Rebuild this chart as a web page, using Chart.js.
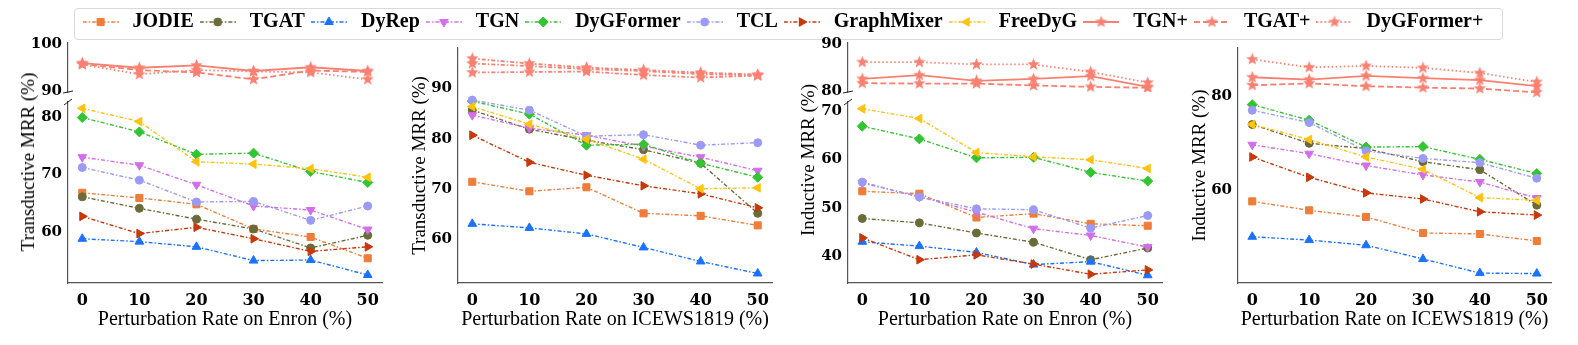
<!DOCTYPE html>
<html>
<head>
<meta charset="utf-8">
<script src="https://cdn.jsdelivr.net/npm/chart.js@4.4.1/dist/chart.umd.min.js"></script>
<style>
  body { margin: 0; background: #fff; width: 1578px; height: 345px; overflow: hidden; position: relative; }
  canvas { position: absolute; }
  #legbox { position: absolute; left: 74px; top: 8px; width: 1427px; height: 30px; border: 1px solid #d9d9d9; border-radius: 4px; }
  .ytitle { position: absolute; font: 19px "Liberation Serif", serif; color: #000; white-space: nowrap;
            transform: translate(-50%, -50%) rotate(-90deg); }
</style>
</head>
<body>
<div id="legbox"></div>
<canvas id="cLeg" width="1578" height="120" style="left:-8px;top:10px"></canvas>
<canvas id="c1t" width="389" height="69" style="left:0;top:33px"></canvas>
<canvas id="c1b" width="389" height="253" style="left:0;top:92px"></canvas>
<canvas id="c2" width="384" height="307" style="left:395px;top:38px"></canvas>
<canvas id="c3t" width="389" height="69" style="left:780px;top:33px"></canvas>
<canvas id="c3b" width="389" height="253" style="left:780px;top:92px"></canvas>
<canvas id="c4" width="383" height="307" style="left:1175px;top:38px"></canvas>
<div class="ytitle" style="left:27.5px;top:162px">Transductive MRR (%)</div>
<div class="ytitle" style="left:808px;top:160px">Inductive MRR (%)</div>
<script>
const rates = [0, 10, 20, 30, 40, 50];
const methods = ["JODIE", "TGAT", "DyRep", "TGN", "DyGFormer", "TCL", "GraphMixer", "FreeDyG", "TGN+", "TGAT+", "DyGFormer+"];

// rows follow the order of methods
const transEnron = [
  [66.8, 65.9, 64.8, 60.5, 59.1, 55.4],
  [66.1, 64.1, 62.2, 60.5, 57.2, 59.4],
  [58.8, 58.3, 57.4, 55.0, 55.1, 52.5],
  [73.0, 71.6, 68.2, 64.5, 63.8, 60.4],
  [79.9, 77.4, 73.5, 73.7, 70.5, 68.6],
  [71.2, 69.0, 65.2, 65.3, 62.0, 64.5],
  [62.7, 59.7, 60.8, 58.8, 56.6, 57.4],
  [81.5, 79.2, 72.2, 71.8, 71.0, 69.5],
  [96.0, 95.0, 95.5, 94.3, 95.1, 94.3],
  [95.8, 94.5, 94.0, 92.5, 94.4, 94.1],
  [95.7, 93.6, 94.5, 94.2, 94.0, 92.5],
];
const transIcews = [
  [71.4, 69.5, 70.3, 65.1, 64.6, 62.7],
  [85.7, 81.9, 79.7, 77.8, 75.1, 65.1],
  [63.0, 62.2, 61.0, 58.3, 55.5, 53.1],
  [84.7, 82.1, 80.7, 78.5, 76.3, 73.6],
  [87.5, 84.9, 78.7, 78.9, 75.1, 72.3],
  [87.7, 85.7, 80.5, 80.8, 78.7, 79.2],
  [80.7, 75.3, 72.7, 70.6, 69.0, 66.2],
  [86.4, 82.9, 79.9, 75.9, 70.0, 70.2],
  [95.0, 94.5, 93.9, 93.5, 92.9, 92.6],
  [93.2, 93.3, 93.4, 92.7, 92.2, 92.6],
  [96.0, 95.0, 94.2, 93.7, 93.2, 92.8],
];
const indEnron = [
  [53.4, 52.9, 48.0, 48.8, 46.7, 46.3],
  [47.8, 46.9, 44.8, 42.9, 39.3, 41.7],
  [43.0, 42.1, 40.8, 38.3, 38.9, 36.1],
  [55.1, 52.3, 49.1, 45.7, 44.3, 41.9],
  [66.8, 64.2, 60.3, 60.4, 57.3, 55.5],
  [55.3, 52.2, 49.8, 49.6, 45.8, 48.4],
  [43.8, 39.3, 40.3, 38.4, 36.3, 37.2],
  [70.4, 68.4, 61.4, 60.5, 59.9, 58.1],
  [82.6, 83.4, 82.2, 82.6, 83.2, 80.9],
  [81.7, 81.6, 81.6, 81.2, 80.9, 80.7],
  [86.2, 86.2, 85.7, 85.7, 84.1, 81.8],
];
const indIcews = [
  [57.7, 55.8, 54.4, 51.0, 50.8, 49.3],
  [74.0, 70.0, 68.9, 66.1, 64.4, 56.9],
  [50.2, 49.5, 48.4, 45.5, 42.5, 42.4],
  [69.7, 67.8, 65.3, 63.3, 61.8, 58.4],
  [78.2, 74.9, 69.2, 69.3, 66.6, 63.6],
  [77.0, 74.4, 68.4, 66.8, 65.9, 62.6],
  [67.1, 62.8, 59.5, 58.2, 55.5, 54.8],
  [74.0, 70.8, 67.1, 64.5, 58.5, 57.9],
  [84.0, 83.5, 84.3, 83.8, 83.4, 82.1],
  [82.3, 82.7, 82.1, 81.8, 81.6, 80.8],
  [87.8, 86.1, 86.4, 86.0, 84.9, 83.0],
];

// styles
const colors = ["#ee7d3a", "#6b6b3a", "#1a72ff", "#d36ee8", "#33c433", "#9b9bf5", "#c8380a", "#ffc20e", "#fa8072", "#fa8072", "#fa8072"];
const markers = [
  { style: "rect", r: 5 }, { style: "circle", r: 4 }, { style: "triangle", r: 5 },
  { style: "triangle", r: 5, rot: 180 }, { style: "rectRot", r: 5 }, { style: "circle", r: 4 },
  { style: "triangle", r: 5, rot: 90 }, { style: "triangle", r: 5, rot: -90 },
  { style: "star", r: 6 }, { style: "star", r: 6 }, { style: "star", r: 6 },
];
const dashDot = [4, 2, 1.5, 2];
const plusDashes = [[], [6, 3], [1.5, 2.5]];
const axisColor = "#555";
const tickFontY = { family: "DejaVu Serif", size: 15, weight: "bold" };
const tickFontX = { family: "DejaVu Serif", size: 16, weight: "bold" };
const xTitleFont = { family: "Liberation Serif", size: 20 };
const yTitleFont = { family: "Liberation Serif", size: 19 };

function starCanvas(color, R) {
  const c = document.createElement("canvas");
  const s = Math.ceil(R * 2 + 2);
  c.width = c.height = s;
  const g = c.getContext("2d");
  g.fillStyle = color;
  g.beginPath();
  for (let k = 0; k < 10; k++) {
    const r = k % 2 ? R * 0.42 : R;
    const a = -Math.PI / 2 + k * Math.PI / 5;
    g.lineTo(s / 2 + r * Math.cos(a), s / 2 + r * Math.sin(a));
  }
  g.closePath();
  g.fill();
  return c;
}
const star = starCanvas("#fa8072", 6.5);

function handle(i) {
  const c = document.createElement("canvas");
  c.width = 36; c.height = 16;
  const g = c.getContext("2d");
  g.strokeStyle = colors[i];
  g.lineWidth = i >= 8 ? 1.8 : 1.4;
  g.setLineDash(i >= 8 ? plusDashes[i - 8] : dashDot);
  g.beginPath(); g.moveTo(0, 8); g.lineTo(36, 8); g.stroke();
  g.setLineDash([]);
  if (i >= 8) {
    g.drawImage(star, 18 - star.width / 2, 8 - star.height / 2);
  } else {
    g.fillStyle = colors[i]; g.lineWidth = 1;
    Chart.helpers.drawPoint(g, { pointStyle: markers[i].style, radius: markers[i].r, rotation: markers[i].rot || 0, borderWidth: 1 }, 18, 8);
  }
  return c;
}

function datasets(values, plusDash) {
  return methods.map((m, i) => ({
    label: m,
    data: rates.map((x, j) => ({ x: x, y: values[i][j] })),
    borderColor: colors[i],
    backgroundColor: colors[i],
    borderWidth: i >= 8 ? 1.8 : 1.4,
    borderDash: i >= 8 ? (plusDash || plusDashes[i - 8]) : dashDot,
    pointStyle: i >= 8 ? star : markers[i].style,
    pointRadius: markers[i].r,
    pointRotation: markers[i].rot || 0,
    pointBorderWidth: 1,
    tension: 0,
    clip: 0,
    order: methods.length - i,
  }));
}

const breakMarks = {
  id: "breakMarks",
  afterDraw(chart, args, opts) {
    if (!opts.edge) return;
    const { ctx, chartArea: a } = chart;
    ctx.save();
    ctx.strokeStyle = "#222";
    ctx.lineWidth = 1;
    ctx.beginPath();
    if (opts.edge === "bottom") {
      ctx.moveTo(a.left - 5, a.bottom + 1); ctx.lineTo(a.left + 5, a.bottom - 1);
    } else {
      ctx.moveTo(a.left - 4, a.top + 3); ctx.lineTo(a.left + 4, a.top - 3);
    }
    ctx.stroke();
    ctx.restore();
  },
};

function panel(id, values, cfg) {
  new Chart(document.getElementById(id), {
    type: "line",
    data: { datasets: datasets(values, cfg.plusDash) },
    plugins: [breakMarks],
    options: {
      responsive: false,
      animation: false,
      layout: { padding: { top: 10, bottom: cfg.showX ? 0 : 10 } },
      plugins: { legend: { display: false }, tooltip: { enabled: false }, breakMarks: { edge: cfg.edge } },
      scales: {
        x: {
          type: "linear", min: -2.5, max: 52.5, display: cfg.showX,
          afterBuildTicks: (s) => { s.ticks = rates.map((v) => ({ value: v })); },
          ticks: { font: tickFontX, color: "#000", padding: 8, maxRotation: 0, autoSkip: false },
          grid: { display: false, drawTicks: false },
          border: { display: true, color: axisColor, width: 1.2 },
          title: { display: true, text: cfg.xTitle, font: xTitleFont, color: "#000", padding: { top: 0, bottom: 13 } },
          afterFit: (s) => { if (cfg.showX) { s.height = 62; s.paddingLeft = 0; s.paddingRight = 0; } },
        },
        y: {
          type: "linear", min: cfg.yMin, max: cfg.yMax,
          afterBuildTicks: (s) => { s.ticks = cfg.yTicks.map((v) => ({ value: v })); },
          ticks: { font: tickFontY, color: "#000", padding: 6, autoSkip: false },
          grid: { display: false, drawTicks: false },
          border: { display: true, color: axisColor, width: 1.2 },
          title: { display: !!cfg.yTitle, text: cfg.yTitle, font: yTitleFont, color: "#000", padding: { top: 13.5, bottom: 0 } },
          afterFit: (s) => { s.width = cfg.yWidth; s.paddingTop = 0; s.paddingBottom = 0; },
        },
      },
    },
  });
}

panel("c1t", transEnron, { showX: false, yMin: 89.8, yMax: 100.3, yTicks: [90, 100], yWidth: 68, edge: "bottom" });
panel("c1b", transEnron, { showX: true, xTitle: "Perturbation Rate on Enron (%)", yMin: 51.1, yMax: 82.6, yTicks: [60, 70, 80], yWidth: 68, edge: "top" });
panel("c2", transIcews, { showX: true, xTitle: "Perturbation Rate on ICEWS1819 (%)", yTitle: "Transductive MRR (%)", yMin: 51.2, yMax: 98.1, yTicks: [60, 70, 80, 90], yWidth: 63, plusDash: dashDot });
panel("c3t", indEnron, { showX: false, yMin: 79.8, yMax: 90.3, yTicks: [80, 90], yWidth: 68, edge: "bottom" });
panel("c3b", indEnron, { showX: true, xTitle: "Perturbation Rate on Enron (%)", yMin: 34.5, yMax: 71.8, yTicks: [40, 50, 60, 70], yWidth: 68, edge: "top" });
panel("c4", indIcews, { showX: true, xTitle: "Perturbation Rate on ICEWS1819 (%)", yTitle: "Inductive MRR (%)", yMin: 40.4, yMax: 90.2, yTicks: [60, 80], yWidth: 63 });

const handles = methods.map((m, i) => handle(i));
new Chart(document.getElementById("cLeg"), {
  type: "line",
  data: { datasets: [] },
  options: {
    responsive: false,
    animation: false,
    scales: { x: { display: false }, y: { display: false } },
    plugins: {
      tooltip: { enabled: false },
      legend: {
        display: true,
        position: "top",
        labels: {
          usePointStyle: true,
          pointStyleWidth: 44,
          padding: 2,
          color: "#000",
          font: { family: "Liberation Serif", size: 20, weight: "bold" },
          generateLabels: () => methods.map((m, i) => ({
            text: m, pointStyle: handles[i], fillStyle: "rgba(0,0,0,0)",
            strokeStyle: "rgba(0,0,0,0)", lineWidth: 0, hidden: false, datasetIndex: i,
          })),
        },
      },
    },
  },
});
</script>
</body>
</html>
